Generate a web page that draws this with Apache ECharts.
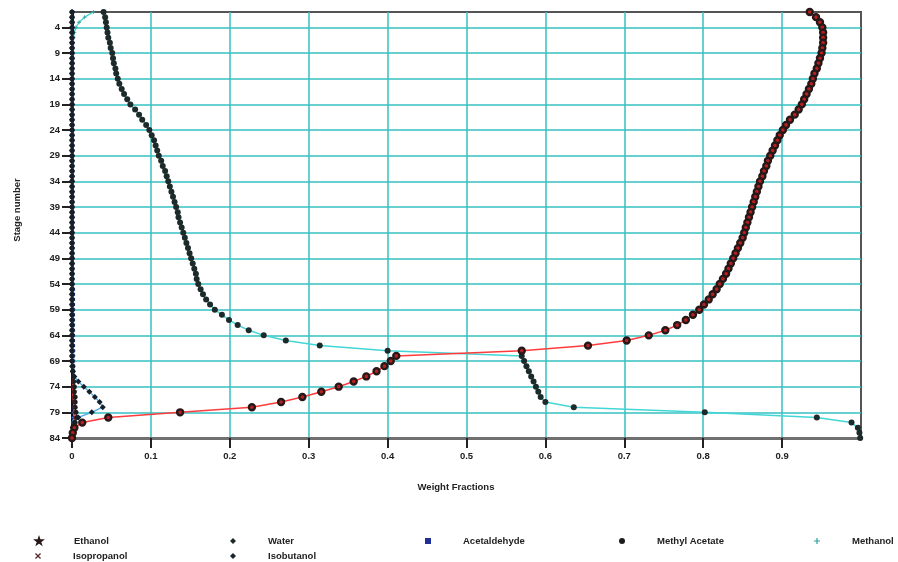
<!DOCTYPE html>
<html><head><meta charset="utf-8">
<script src="https://cdn.jsdelivr.net/npm/echarts@6/dist/echarts.min.js"></script>
<style>html,body{margin:0;padding:0;background:#fff}#c{width:898px;height:562px}</style>
</head><body><div id="c"></div>
<script>
const stages = [1,2,3,4,5,6,7,8,9,10,11,12,13,14,15,16,17,18,19,20,21,22,23,24,25,26,27,28,29,30,31,32,33,34,35,36,37,38,39,40,41,42,43,44,45,46,47,48,49,50,51,52,53,54,55,56,57,58,59,60,61,62,63,64,65,66,67,68,69,70,71,72,73,74,75,76,77,78,79,80,81,82,83,84];
const yTicks = [4,9,14,19,24,29,34,39,44,49,54,59,64,69,74,79,84];
const xTicks = [0,0.1,0.2,0.3,0.4,0.5,0.6,0.7,0.8,0.9];

const ethanol = [0.935,0.943,0.948,0.951,0.952,0.952,0.952,0.951,0.950,0.948,
 0.946,0.944,0.941,0.939,0.937,0.934,0.931,0.928,0.925,0.921,
 0.916,0.910,0.905,0.901,0.897,0.894,0.891,0.888,0.885,0.882,
 0.880,0.877,0.875,0.872,0.870,0.868,0.866,0.864,0.862,0.860,
 0.858,0.856,0.854,0.852,0.850,0.847,0.844,0.841,0.838,0.835,
 0.832,0.829,0.825,0.821,0.817,0.812,0.807,0.801,0.795,0.787,
 0.778,0.767,0.752,0.731,0.703,0.654,0.570,0.411,0.404,0.396,
 0.386,0.373,0.357,0.338,0.316,0.292,0.265,0.228,0.137,0.046,
 0.013,0.003,0.001,0.000];
const water = [0.040,0.042,0.043,0.044,0.045,0.046,0.048,0.049,0.051,0.052,
 0.053,0.055,0.056,0.058,0.060,0.063,0.066,0.070,0.074,0.080,
 0.085,0.089,0.094,0.098,0.101,0.104,0.106,0.108,0.110,0.113,
 0.115,0.118,0.120,0.122,0.124,0.126,0.128,0.130,0.132,0.134,
 0.135,0.137,0.139,0.141,0.143,0.145,0.147,0.149,0.151,0.153,
 0.155,0.157,0.158,0.160,0.163,0.166,0.170,0.175,0.181,0.190,
 0.199,0.210,0.224,0.243,0.271,0.314,0.400,0.570,0.573,0.576,
 0.579,0.582,0.585,0.588,0.591,0.594,0.600,0.636,0.802,0.944,
 0.988,0.996,0.998,0.999];
const acetaldehyde = [0.001,0.001,0.001,0.001,0.001,0.001,0.001,0.001,0.001,0.001,
 0.001,0.001,0.001,0.001,0.001,0.001,0.001,0.001,0.001,0.001,
 0.001,0.001,0.001,0.001,0.001,0.001,0.001,0.001,0.001,0.001,
 0.001,0.001,0.001,0.001,0.001,0.001,0.001,0.001,0.001,0.001,
 0.001,0.001,0.001,0.001,0.001,0.001,0.001,0.001,0.001,0.001,
 0.001,0.001,0.001,0.001,0.002,0.002,0.002,0.002,0.002,0.002,
 0.002,0.002,0.002,0.002,0.002,0.002,0.002,0.002,0.002,0.002,
 0.002,0.002,0.002,0.003,0.003,0.003,0.003,0.002,0.002,0.002,
 0.001,0.001,0.001,0.001];
const methylAcetate = [0,0,0,0,0,0,0,0,0,0,0,0,0,0,0,0,0,0,0,0,
 0,0,0,0,0,0,0,0,0,0,0,0,0,0,0,0,0,0,0,0,
 0,0,0,0,0,0,0,0,0,0,0,0,0,0,0,0,0,0,0,0,
 0,0,0,0,0,0,0,0,0,0.001,0.001,0.002,0.002,0.003,0.003,0.004,0.004,0.004,0.005,0.006,
 0.004,0.002,0.001,0];
const methanol = [0.027,0.016,0.009,0.005,0.003,0.002,0.001,0.001,0.001,0.001,
 0.001,0.001,0.001,0.001,0.001,0.001,0.001,0.001,0.001,0.001,
 0.001,0.001,0.001,0.001,0.001,0.001,0.001,0.001,0.001,0.001,
 0.001,0.001,0.001,0.001,0.001,0.001,0.001,0.001,0.001,0.001,
 0.001,0.001,0.001,0.001,0.001,0.001,0.001,0.001,0.001,0.001,
 0.001,0.001,0.001,0.001,0.001,0.001,0.001,0.001,0.001,0.001,
 0.001,0.001,0.001,0.001,0.001,0.001,0.002,0.002,0.002,0.002,
 0.002,0.002,0.003,0.003,0.003,0.004,0.004,0.004,0.003,0.002,
 0.001,0.001,0.001,0.001];
const isopropanol = [0,0,0,0,0,0,0,0,0,0,0,0,0,0,0,0,0,0,0,0,
 0,0,0,0,0,0,0,0,0,0,0,0,0,0,0,0,0,0,0,0,
 0,0,0,0,0,0,0,0,0,0,0,0,0,0,0,0,0,0,0,0,
 0,0,0,0,0,0,0,0.001,0.001,0.001,0.001,0.001,0.001,0.001,0.001,0.001,0.002,0.002,0.002,0.003,
 0.004,0.003,0.001,0];
const isobutanol = [0,0,0,0,0,0,0,0,0,0,0,0,0,0,0,0,0,0,0,0,
 0,0,0,0,0,0,0,0,0,0,0,0,0,0,0,0,0,0,0,0,
 0,0,0,0,0,0,0,0,0,0,0,0,0,0,0,0,0,0,0,0,
 0,0,0,0,0,0,0,0,0,0,0.001,0.003,0.008,0.015,0.022,0.029,0.035,0.039,0.025,0.008,
 0.003,0.001,0,0];

const FONT = "'Liberation Sans Narrow','Liberation Sans','Arial Narrow',sans-serif";
const pairs = v => stages.map((s, i) => [v[i], s]);
const STAR = 'path://M5,0L6.2,3.6L10,3.6L7,5.9L8.1,9.5L5,7.3L1.9,9.5L3,5.9L0,3.6L3.8,3.6Z';
const PLUS = 'path://M4,0H6V4H10V6H6V10H4V6H0V4H4Z';
const CROSS = 'path://M1.5,0L5,3.5L8.5,0L10,1.5L6.5,5L10,8.5L8.5,10L5,6.5L1.5,10L0,8.5L3.5,5L0,1.5Z';

function ser(name, data, symbol, size, color, lineColor, lineWidth, extra) {
  return Object.assign({
    name, type: 'line', data: pairs(data), symbol, symbolSize: size,
    showAllSymbol: true, smooth: false,
    itemStyle: { color, borderWidth: 0 },
    lineStyle: { color: lineColor, width: lineWidth },
    emphasis: { disabled: true }
  }, extra || {});
}

const series = [
  ser('Acetaldehyde', acetaldehyde, 'rect', 3, '#1f2f9a', '#2040c0', 1, { z: 2 }),
  ser('Methanol', methanol, PLUS, 4, '#2fa0a0', '#3fd0d0', 1.2, { z: 2 }),
  ser('Methyl Acetate', methylAcetate, 'circle', 5, '#1c1c1c', '#1c1c1c', 1, { z: 3 }),
  ser('Isopropanol', isopropanol, CROSS, 3, '#5a1a1a', '#ff3030', 1.2, { z: 3 }),
  ser('Isobutanol', isobutanol, 'diamond', 6, '#16202a', '#4aa8e8', 1.3, { z: 3 }),
  ser('Water', water, 'circle', 6, '#1d2a2a', '#44d6d6', 1.5, { z: 4 }),
  ser('Ethanol', ethanol, 'circle', 6, '#b82020', '#ff3b3b', 1.5,
      { z: 5, itemStyle: { color: '#b82020', borderColor: '#261818', borderWidth: 2.4 } })
];

function leg(name, icon, left, top, color) {
  return {
    data: [{ name, icon, itemStyle: { color } }],
    left, top, padding: 0, itemWidth: 6, itemHeight: 6, selectedMode: false,
    textStyle: { fontFamily: FONT, fontSize: 9.5, fontWeight: 'bold', color: '#222', padding: [0, 0, 0, 27] }
  };
}

const option = {
  animation: false,
  backgroundColor: '#fff',
  grid: { left: 72, right: 37, top: 12, bottom: 124, show: true, borderColor: '#555', borderWidth: 2, backgroundColor: 'transparent' },
  xAxis: {
    type: 'value', min: 0, max: 1, interval: 0.1,
    axisLine: { show: true, onZero: false, lineStyle: { color: '#707070', width: 3 } },
    axisTick: { show: true, length: 10, customValues: xTicks, lineStyle: { color: '#222', width: 2 } },
    axisLabel: {
      customValues: xTicks,
      fontFamily: FONT, fontSize: 9.5, fontWeight: 'bold', color: '#222', margin: 13,
      formatter: v => { const i = xTicks.findIndex(t => Math.abs(t - v) < 1e-9); return i < 0 ? '' : String(xTicks[i]); }
    },
    splitLine: { show: true, lineStyle: { color: '#36c0c0', width: 1.5 } }
  },
  yAxis: {
    type: 'value', inverse: true, min: 1, max: 84,
    axisLine: { show: true, onZero: false, lineStyle: { color: '#111', width: 3 } },
    axisTick: { show: true, length: 10, customValues: yTicks, lineStyle: { color: '#222', width: 2 } },
    axisLabel: { customValues: yTicks, fontFamily: FONT, fontSize: 9.5, fontWeight: 'bold', color: '#222', margin: 12 },
    splitLine: { show: true, lineStyle: { color: '#36c0c0', width: 1.5 } }
  },
  legend: [
    leg('Ethanol', STAR, 35, 536, '#8a2020'),
    leg('Water', 'diamond', 230, 536, '#1d2a2a'),
    leg('Acetaldehyde', 'rect', 425, 536, '#1f2f9a'),
    leg('Methyl Acetate', 'circle', 619, 536, '#1c1c1c'),
    leg('Methanol', PLUS, 814, 536, '#2fa0a0'),
    leg('Isopropanol', CROSS, 35, 551, '#5a2a2a'),
    leg('Isobutanol', 'diamond', 230, 551, '#1a2530')
  ],
  graphic: [
    { type: 'text', x: 17, y: 210, rotation: Math.PI / 2,
      style: { text: 'Stage number', font: "bold 9.5px " + FONT, fill: '#222', align: 'center', verticalAlign: 'middle' } },
    { type: 'text', x: 456, y: 487,
      style: { text: 'Weight Fractions', font: "bold 9.5px " + FONT, fill: '#222', align: 'center', verticalAlign: 'middle' } }
  ],
  series
};
const chart = echarts.init(document.getElementById('c'), null, { renderer: 'canvas' });
chart.setOption(option);
</script></body></html>
